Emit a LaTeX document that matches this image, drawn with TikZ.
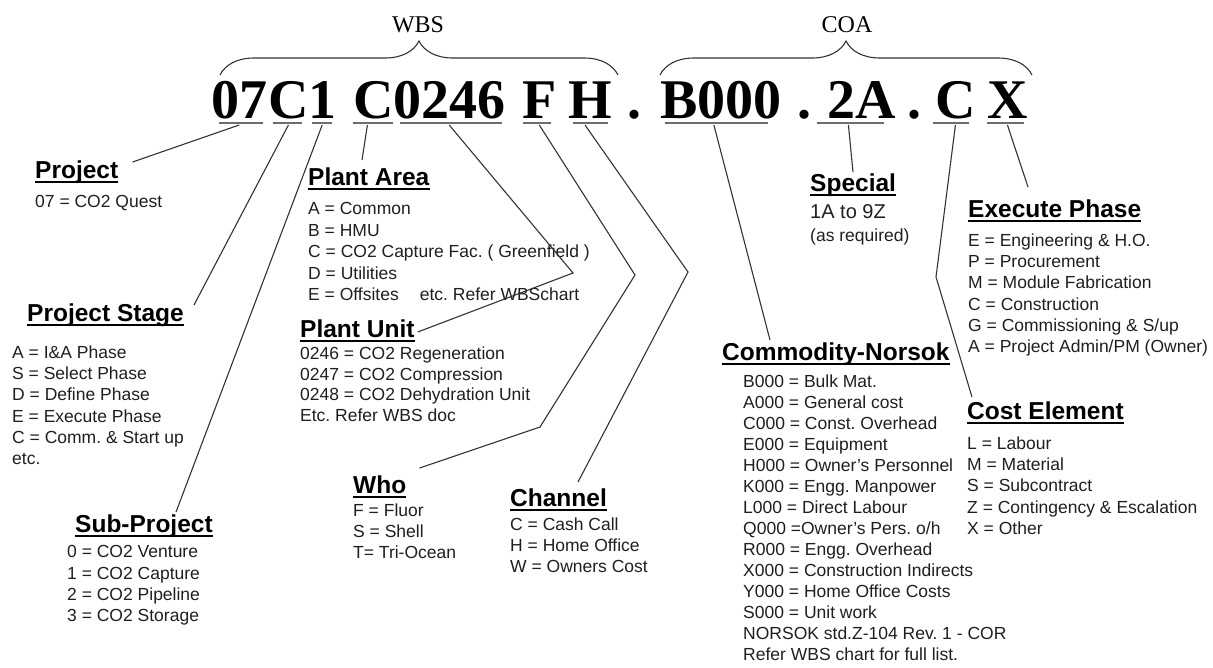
\documentclass[tikz,border=0pt]{standalone}
\usepackage{fontspec}
\setmainfont{Liberation Sans}
\newfontfamily\codefont{Liberation Serif}
\usetikzlibrary{calc, decorations.pathreplacing}
\frenchspacing
\definecolor{InkGray}{HTML}{1E1E24}
\definecolor{LinkGray}{HTML}{333333}
\definecolor{RuleGray}{HTML}{6E6E6E}
\tikzset{
  code/.style={inner sep=0pt, anchor=base west, font=\codefont\bfseries\fontsize{56}{60}\selectfont},
  tag/.style={inner sep=0pt, font=\codefont\fontsize{24}{28}\selectfont},
  head/.style={inner sep=0pt, anchor=base west, font=\bfseries\fontsize{24.5}{28}\selectfont},
  body/.style={inner sep=0pt, anchor=north west, align=left, text=InkGray, font=\fontsize{17.5}{21.3}\selectfont},
  uline/.style={draw=RuleGray, line width=1.4pt},
  hline/.style={draw=black, line width=2.6pt},
  link/.style={draw=LinkGray, line width=1.1pt},
  brace/.style={draw=LinkGray, line width=1.1pt, decorate, decoration={brace, amplitude=34pt}}
}

\begin{document}
\begin{tikzpicture}[x=1pt, y=-1pt]
\useasboundingbox (0,0) rectangle (1213,667);

% the code string
\node[code] (c07) at (211,118) {07};
\node[code] (cStage) at (268,118) {C};
\node[code] (cSub) at (308,118) {1};
\node[code] (cArea) at (353,118) {C};
\node[code] (cUnit) at (393,118) {0246};
\node[code] (cWho) at (522,118) {F};
\node[code] (cChan) at (568,118) {H};
\node[code] (dotA) at (627,118) {.};
\node[code] (cCom) at (660,118) {B000};
\node[code] (dotB) at (797,118) {.};
\node[code] (cSpec) at (827,118) {2A};
\node[code] (dotC) at (907,118) {.};
\node[code] (cCost) at (935,118) {C};
\node[code] (cExec) at (987,118) {X};
\foreach \n/\lft/\rgt in {c07/8/4, cStage/5/7, cSub/4/4, cArea/0/1, cUnit/7/3, cWho/1/6,
    cChan/5/4, cCom/5/14, cSpec/-10/12, cCost/-2/7, cExec/0/4}
  \draw[uline] ([xshift=\lft pt,yshift=-5pt]\n.base west) -- ([xshift=-\rgt pt,yshift=-5pt]\n.base east);

\draw[brace] (220,75) -- (618,75);
\node[tag] (wbs) at (418,25) {WBS};
\draw[brace] (660,75) -- (1032,75);
\node[tag] (coa) at (847,25) {COA};

% headings and lists
\node[head] (hProj) at (35,178) {Project};
\node[body] (bProj) at (35,195.5) {07 = CO2 Quest};

\node[head] (hStage) at (27,321) {Project Stage};
\node[body] (bStage) at (12,345.5) {A = I\&A Phase\\S = Select Phase\\D = Define Phase\\E = Execute Phase\\C = Comm. \& Start up\\etc.};

\node[head] (hSub) at (75,532) {Sub-Project};
\node[body] (bSub) at (67,545.5) {0 = CO2 Venture\\1 = CO2 Capture\\2 = CO2 Pipeline\\3 = CO2 Storage};

\node[head] (hArea) at (308,185) {Plant Area};
\node[body, font=\fontsize{17.5}{21.5}\selectfont] (bArea) at (308,202.5) {A = Common\\B = HMU\\C = CO2 Capture Fac. ( Greenfield )\\D = Utilities\\E = Offsites\hspace{1.2em}etc. Refer WBSchart};

\node[head] (hUnit) at (300,337) {Plant Unit};
\node[body, font=\fontsize{17.5}{20.8}\selectfont] (bUnit) at (300,346.5) {0246 = CO2 Regeneration\\0247 = CO2 Compression\\0248 = CO2 Dehydration Unit\\Etc. Refer WBS doc};

\node[head] (hWho) at (353,493) {Who};
\node[body] (bWho) at (353,503.5) {F = Fluor\\S = Shell\\T= Tri-Ocean};

\node[head] (hChan) at (510,506) {Channel};
\node[body] (bChan) at (510,517.5) {C = Cash Call\\H = Home Office\\W = Owners Cost};

\node[head] (hCom) at (722,360) {Commodity-Norsok};
\node[body, font=\fontsize{17.5}{21}\selectfont] (bCom) at (743,375) {B000 = Bulk Mat.\\A000 = General cost\\C000 = Const. Overhead\\E000 = Equipment\\H000 = Owner's Personnel\\K000 = Engg. Manpower\\L000 = Direct Labour\\Q000 =Owner's Pers. o/h\\R000 = Engg. Overhead\\X000 = Construction Indirects\\Y000 = Home Office Costs\\S000 = Unit work\\NORSOK std.Z-104 Rev. 1 - COR\\Refer WBS chart for full list.};

\node[head] (hSpec) at (810,191) {Special};
\node[body, font=\fontsize{20}{23}\selectfont] (bSpec) at (810,204.5) {1A to 9Z\\{\fontsize{17.5}{21}\selectfont (as required)}};

\node[head] (hExec) at (968,217) {Execute Phase};
\node[body] (bExec) at (968,233.5) {E = Engineering \& H.O.\\P = Procurement\\M = Module Fabrication\\C = Construction\\G = Commissioning \& S/up\\A = Project Admin/PM (Owner)};

\node[head] (hCost) at (967,419) {Cost Element};
\node[body] (bCost) at (967,436.5) {L = Labour\\M = Material\\S = Subcontract\\Z = Contingency \& Escalation\\X = Other};

\foreach \n in {hProj, hStage, hSub, hArea, hUnit, hWho, hChan, hCom, hSpec, hExec, hCost}
  \draw[hline] ([yshift=-4pt]\n.base west) -- ([yshift=-4pt]\n.base east);

% bends
\coordinate (kUnit) at (573,273);
\coordinate (kWhoA) at (635,275);
\coordinate (kWhoB) at (540,427);
\coordinate (kChan) at (688,272);
\coordinate (kCost) at (936,277);

\draw[link] ([yshift=-7pt]c07.base) -- ($(hProj.north east)+(14,2)$);
\draw[link] ([yshift=-7pt]cStage.base) -- ($(hStage.north east)+(10,2)$);
\draw[link] ([yshift=-7pt]cSub.base) -- ($(hSub.north west)+(101,-2)$);
\draw[link] ([xshift=-6pt,yshift=-7pt]cArea.base) -- ($(hArea.north west)+(54,-7)$);
\draw[link] ([yshift=-7pt]cUnit.base) -- (kUnit) -- ($(hUnit.base east)+(3,-5)$);
\draw[link] ([yshift=-7pt]cWho.base) -- (kWhoA) -- (kWhoB) -- ($(hWho.north east)+(13,-7)$);
\draw[link] ([xshift=-5pt,yshift=-7pt]cChan.base) -- (kChan) -- ($(hChan.north west)+(68,-6)$);
\draw[link] ([xshift=-7pt,yshift=-7pt]cCom.base) -- ($(hCom.north west)+(48,-2)$);
\draw[link] ([xshift=-13pt,yshift=-7pt]cSpec.base) -- ($(hSpec.north west)+(43,-1)$);
\draw[link] ([yshift=-7pt]cCost.base) -- (kCost) -- ($(hCost.north west)+(5,-4)$);
\draw[link] ([yshift=-7pt]cExec.base) -- ($(hExec.north west)+(60,-12)$);
\end{tikzpicture}
\end{document}
